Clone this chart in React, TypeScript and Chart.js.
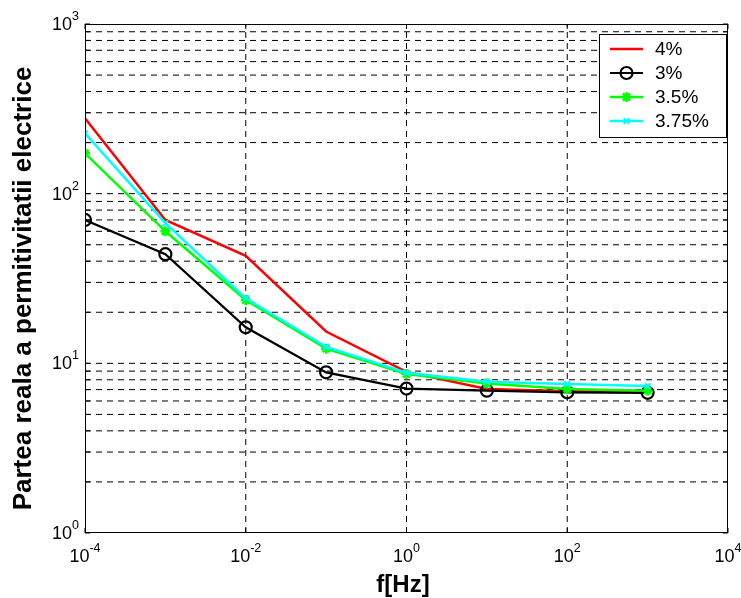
import React, { useEffect, useRef } from 'react';
import { Chart, registerables } from 'chart.js';
import { drawPoint } from 'chart.js/helpers';

Chart.register(...registerables);

// ---- data ----
const frequencies = [1e-4, 1e-3, 1e-2, 1e-1, 1, 10, 100, 1000];
const seriesLabels = ['4%', '3%', '3.5%', '3.75%'];
const eps4 = [278, 70, 43, 15.4, 8.9, 7.05, 6.85, 6.8];
const eps3 = [70, 44, 16.3, 8.85, 7.1, 6.9, 6.75, 6.7];
const eps35 = [173, 60, 23.6, 12.2, 8.65, 7.6, 7.05, 6.9];
const eps375 = [227, 67, 24.2, 12.5, 8.8, 7.8, 7.55, 7.35];

const xTickExponents = [-4, -2, 0, 2, 4];
const yTickExponents = [0, 1, 2, 3];
const yMinorMultipliers = [1, 2, 3, 4, 5, 6, 7, 8, 9];
const xTitle = 'f[Hz]';
const yTitle = 'Partea reala a permitivitatii electrice';

const FONT = '"Liberation Sans", Arial, Helvetica, sans-serif';

const toPoints = (ys: number[]) => frequencies.map((f, i) => ({ x: f, y: ys[i] }));

function drawPow(ctx: CanvasRenderingContext2D, exp: number, x: number, y: number, align: 'center' | 'right') {
  const base = '10';
  const sup = String(exp);
  ctx.font = `18px ${FONT}`;
  const wb = ctx.measureText(base).width;
  ctx.font = `12.5px ${FONT}`;
  const we = ctx.measureText(sup).width;
  const total = wb + we;
  const start = align === 'center' ? x - total / 2 : x - total;
  ctx.textAlign = 'left';
  ctx.textBaseline = 'alphabetic';
  ctx.fillStyle = '#000';
  ctx.font = `18px ${FONT}`;
  ctx.fillText(base, start, y);
  ctx.font = `12.5px ${FONT}`;
  ctx.fillText(sup, start + wb, y - 10);
}

const matlabPlugin = {
  id: 'matlabAxes',
  beforeDatasetsDraw(chart: any) {
    const { ctx, chartArea: a, scales } = chart;
    const xs = scales.x;
    const ys = scales.y;
    ctx.save();
    ctx.beginPath();
    ctx.rect(a.left, a.top, a.right - a.left, a.bottom - a.top);
    ctx.clip();
    ctx.strokeStyle = '#000';
    ctx.lineWidth = 1;
    ctx.setLineDash([6, 5]);
    // vertical grid
    xTickExponents.forEach((e) => {
      const px = xs.getPixelForValue(Math.pow(10, e));
      if (px <= a.left + 1 || px >= a.right - 1) return;
      ctx.beginPath();
      ctx.moveTo(px, a.bottom);
      ctx.lineTo(px, a.top);
      ctx.stroke();
    });
    // horizontal grid
    yTickExponents.forEach((e) => {
      yMinorMultipliers.forEach((m) => {
        const v = m * Math.pow(10, e);
        const py = ys.getPixelForValue(v);
        if (py <= a.top + 1 || py >= a.bottom - 1) return;
        ctx.beginPath();
        ctx.moveTo(a.left, py);
        ctx.lineTo(a.right, py);
        ctx.stroke();
      });
    });
    ctx.restore();
  },
  afterDatasetsDraw(chart: any) {
    const { ctx, chartArea: a, scales } = chart;
    const xs = scales.x;
    const ys = scales.y;
    ctx.save();
    // box
    ctx.setLineDash([]);
    ctx.strokeStyle = '#000';
    ctx.lineWidth = 1;
    ctx.strokeRect(Math.round(a.left) + 0.5, Math.round(a.top) + 0.5, Math.round(a.right - a.left) - 1, Math.round(a.bottom - a.top) - 1);
    // inward ticks
    ctx.beginPath();
    yTickExponents.forEach((e) => {
      yMinorMultipliers.forEach((m) => {
        const v = m * Math.pow(10, e);
        if (v > 1000) return;
        const py = ys.getPixelForValue(v);
        ctx.moveTo(a.left, py);
        ctx.lineTo(a.left + 5, py);
        ctx.moveTo(a.right, py);
        ctx.lineTo(a.right - 5, py);
      });
    });
    xTickExponents.forEach((e) => {
      const px = xs.getPixelForValue(Math.pow(10, e));
      ctx.moveTo(px, a.bottom);
      ctx.lineTo(px, a.bottom - 5);
      ctx.moveTo(px, a.top);
      ctx.lineTo(px, a.top + 5);
    });
    ctx.stroke();
    // tick labels
    xTickExponents.forEach((e) => {
      const px = xs.getPixelForValue(Math.pow(10, e));
      drawPow(ctx, e, px, a.bottom + 29, 'center');
    });
    yTickExponents.forEach((e) => {
      const py = ys.getPixelForValue(Math.pow(10, e));
      drawPow(ctx, e, a.left - 6, py + 6, 'right');
    });
    // titles
    ctx.fillStyle = '#000';
    ctx.textAlign = 'center';
    ctx.textBaseline = 'alphabetic';
    ctx.font = `bold 24px ${FONT}`;
    ctx.fillText(xTitle, 403, 592);
    ctx.save();
    ctx.translate(31, 288.5);
    ctx.rotate(-Math.PI / 2);
    ctx.font = `bold 26px ${FONT}`;
    ctx.fillText(yTitle, 0, 0);
    ctx.restore();

    // legend
    const lx = 599, ly = 34, lw = 127, lh = 103;
    ctx.fillStyle = '#fff';
    ctx.fillRect(lx, ly, lw, lh);
    ctx.strokeStyle = '#000';
    ctx.lineWidth = 1;
    ctx.strokeRect(lx + 0.5, ly + 0.5, lw, lh);
    chart.data.datasets.forEach((ds: any, i: number) => {
      const y = 49 + i * 24;
      ctx.strokeStyle = ds.borderColor;
      ctx.lineWidth = ds.borderWidth;
      ctx.beginPath();
      ctx.moveTo(610, y);
      ctx.lineTo(643, y);
      ctx.stroke();
      if (ds.pointRadius > 0) {
        ctx.strokeStyle = ds.pointBorderColor;
        ctx.fillStyle = 'rgba(0,0,0,0)';
        ctx.lineWidth = ds.pointBorderWidth;
        drawPoint(ctx, { pointStyle: ds.pointStyle, radius: ds.pointRadius, borderWidth: ds.pointBorderWidth, rotation: 0 }, 626.5, y);
      }
      ctx.fillStyle = '#000';
      ctx.font = `19px ${FONT}`;
      ctx.textAlign = 'left';
      ctx.textBaseline = 'middle';
      ctx.fillText(ds.label, 655, y + 1);
    });
    ctx.restore();
  },
};

export default function App() {
  const ref = useRef<HTMLCanvasElement | null>(null);
  useEffect(() => {
    if (!ref.current) return;
    const chart = new Chart(ref.current, {
      type: 'line',
      data: {
        datasets: [
          {
            label: seriesLabels[0],
            data: toPoints(eps4),
            borderColor: '#ff0000',
            borderWidth: 2.5,
            pointRadius: 0,
            pointBorderColor: '#ff0000',
            pointBorderWidth: 0,
            order: 4,
          },
          {
            label: seriesLabels[1],
            data: toPoints(eps3),
            borderColor: '#000000',
            borderWidth: 2.2,
            pointStyle: 'circle',
            pointRadius: 6,
            pointBorderWidth: 2.2,
            pointBorderColor: '#000000',
            pointBackgroundColor: 'rgba(0,0,0,0)',
            order: 3,
          },
          {
            label: seriesLabels[2],
            data: toPoints(eps35),
            borderColor: '#00ff00',
            borderWidth: 2.5,
            pointStyle: 'star',
            pointRadius: 5,
            pointBorderWidth: 2.5,
            pointBorderColor: '#00ff00',
            pointBackgroundColor: '#00ff00',
            order: 2,
          },
          {
            label: seriesLabels[3],
            data: toPoints(eps375),
            borderColor: '#00ffff',
            borderWidth: 2.5,
            pointStyle: 'crossRot',
            pointRadius: 4,
            pointBorderWidth: 2,
            pointBorderColor: '#00ffff',
            pointBackgroundColor: '#00ffff',
            order: 1,
          },
        ],
      },
      options: {
        responsive: false,
        animation: false,
        devicePixelRatio: 1,
        layout: { padding: { top: 24, right: 13, left: 0, bottom: 0 } },
        plugins: { legend: { display: false }, tooltip: { enabled: false } },
        elements: { line: { tension: 0 } },
        scales: {
          x: {
            type: 'logarithmic',
            min: 1e-4,
            max: 1e4,
            grid: { display: false },
            border: { display: false },
            ticks: { display: false },
            afterBuildTicks: (s: any) => {
              s.ticks = xTickExponents.map((e) => ({ value: Math.pow(10, e), major: true }));
            },
            afterFit: (s: any) => {
              s.height = 65;
            },
          },
          y: {
            type: 'logarithmic',
            min: 1,
            max: 1000,
            grid: { display: false },
            border: { display: false },
            ticks: { display: false },
            afterBuildTicks: (s: any) => {
              s.ticks = yTickExponents.map((e) => ({ value: Math.pow(10, e), major: true }));
            },
            afterFit: (s: any) => {
              s.width = 85;
            },
          },
        },
      },
      plugins: [matlabPlugin],
    } as any);
    return () => chart.destroy();
  }, []);
  return (
    <div style={{ position: 'absolute', left: 0, top: 0, width: 741, height: 598, background: '#fff' }}>
      <canvas ref={ref} width={741} height={598} style={{ display: 'block' }} />
    </div>
  );
}
